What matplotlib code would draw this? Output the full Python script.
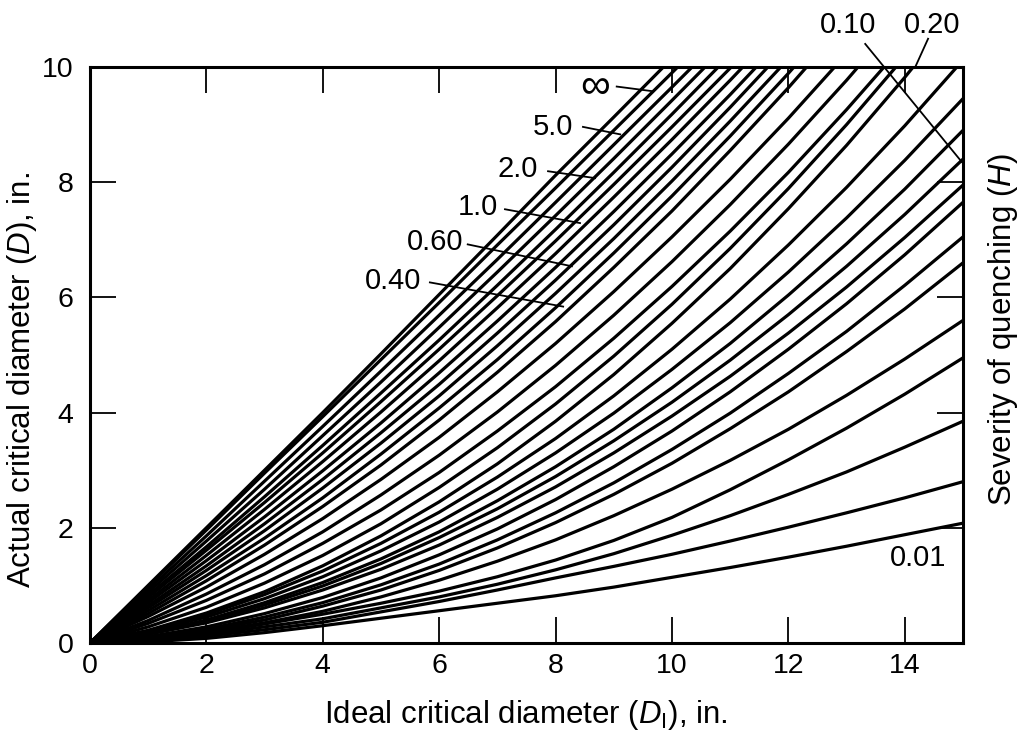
import matplotlib
matplotlib.use('Agg')
import matplotlib.pyplot as plt

plt.rcParams['font.family'] = ['Liberation Sans', 'DejaVu Sans']
plt.rcParams['mathtext.fontset'] = 'custom'
plt.rcParams['mathtext.it'] = 'Liberation Sans:italic'
plt.rcParams['mathtext.rm'] = 'Liberation Sans'

# ideal critical diameter grid (in.)
ideal_d = [0, 1, 2, 3, 4, 5, 6, 7, 8, 9, 10, 11, 12, 13, 14, 15]

# actual critical diameter, one row per curve (from H = inf downwards)
upper_curves = [
    [0, 1.00, 2.00, 3.00, 4.00, 5.02, 6.05, 7.08, 8.12, 9.13, 10.15, 11.16, 12.18, 13.19, 14.20, 15.20],
    [0, 0.98, 1.96, 2.95, 3.93, 4.92, 5.91, 6.91, 7.90, 8.90, 9.90, 10.91, 11.91, 12.92, 13.93, 14.95],
    [0, 0.93, 1.86, 2.81, 3.76, 4.72, 5.69, 6.66, 7.65, 8.65, 9.65, 10.66, 11.68, 12.70, 13.74, 14.79],
    [0, 0.88, 1.77, 2.67, 3.60, 4.53, 5.48, 6.44, 7.42, 8.41, 9.42, 10.44, 11.47, 12.53, 13.59, 14.67],
    [0, 0.83, 1.67, 2.54, 3.43, 4.34, 5.26, 6.21, 7.18, 8.17, 9.18, 10.21, 11.26, 12.33, 13.42, 14.53],
    [0, 0.79, 1.61, 2.44, 3.30, 4.19, 5.10, 6.03, 6.98, 7.96, 8.96, 9.98, 11.02, 12.09, 13.19, 14.30],
    [0, 0.74, 1.52, 2.32, 3.15, 4.01, 4.90, 5.82, 6.76, 7.74, 8.74, 9.77, 10.83, 11.92, 13.04, 14.18],
    [0, 0.70, 1.43, 2.19, 2.99, 3.82, 4.69, 5.59, 6.52, 7.49, 8.49, 9.52, 10.59, 11.69, 12.83, 14.00],
    [0, 0.65, 1.34, 2.07, 2.84, 3.65, 4.49, 5.38, 6.30, 7.26, 8.26, 9.30, 10.38, 11.50, 12.66, 13.85],
    [0, 0.61, 1.26, 1.95, 2.69, 3.47, 4.29, 5.16, 6.07, 7.02, 8.02, 9.06, 10.14, 11.27, 12.44, 13.65],
]
middle_curves = [
    [0, 0.56, 1.17, 1.82, 2.52, 3.28, 4.08, 4.92, 5.82, 6.77, 7.76, 8.80, 9.89, 11.03, 12.21, 13.45],
    [0, 0.51, 1.08, 1.70, 2.37, 3.09, 3.87, 4.70, 5.58, 6.52, 7.50, 8.55, 9.64, 10.79, 11.99, 13.24],
    [0, 0.46, 0.97, 1.54, 2.16, 2.84, 3.57, 4.36, 5.20, 6.10, 7.05, 8.05, 9.11, 10.23, 11.40, 12.62],
    [0, 0.39, 0.85, 1.36, 1.93, 2.57, 3.26, 4.01, 4.82, 5.69, 6.62, 7.61, 8.66, 9.77, 10.94, 12.17],
    [0, 0.34, 0.74, 1.20, 1.73, 2.31, 2.96, 3.68, 4.45, 5.29, 6.19, 7.15, 8.17, 9.26, 10.41, 11.62],
    [0, 0.28, 0.62, 1.04, 1.52, 2.07, 2.70, 3.39, 4.15, 4.98, 5.88, 6.85, 7.89, 9.00, 10.18, 11.43],
    [0, 0.22, 0.52, 0.89, 1.34, 1.86, 2.45, 3.11, 3.85, 4.66, 5.55, 6.50, 7.54, 8.64, 9.82, 11.07],
    [0, 0.21, 0.49, 0.84, 1.25, 1.73, 2.27, 2.88, 3.55, 4.29, 5.10, 5.97, 6.91, 7.91, 8.98, 10.12],
    [0, 0.20, 0.45, 0.77, 1.15, 1.60, 2.10, 2.67, 3.30, 3.99, 4.75, 5.56, 6.44, 7.38, 8.38, 9.45],
    [0, 0.17, 0.40, 0.70, 1.05, 1.46, 1.93, 2.47, 3.06, 3.71, 4.43, 5.20, 6.04, 6.93, 7.88, 8.90],
]
lower_curves = [
    [0, 0.16, 0.38, 0.66, 0.99, 1.38, 1.83, 2.33, 2.89, 3.51, 4.18, 4.91, 5.70, 6.54, 7.44, 8.40],
    [0, 0.15, 0.35, 0.61, 0.92, 1.28, 1.70, 2.18, 2.71, 3.30, 3.94, 4.63, 5.38, 6.18, 7.04, 7.95],
    [0, 0.11, 0.28, 0.51, 0.79, 1.13, 1.53, 1.98, 2.49, 3.06, 3.68, 4.36, 5.10, 5.89, 6.74, 7.65],
    [0, 0.09, 0.24, 0.45, 0.70, 1.01, 1.37, 1.79, 2.26, 2.78, 3.36, 3.99, 4.68, 5.41, 6.21, 7.05],
    [0, 0.08, 0.22, 0.40, 0.64, 0.92, 1.26, 1.65, 2.09, 2.58, 3.12, 3.72, 4.36, 5.06, 5.80, 6.60],
    [0, 0.07, 0.19, 0.35, 0.55, 0.80, 1.09, 1.42, 1.79, 2.21, 2.67, 3.17, 3.71, 4.30, 4.93, 5.60],
    [0, 0.05, 0.17, 0.33, 0.50, 0.69, 0.90, 1.15, 1.44, 1.78, 2.18, 2.66, 3.18, 3.73, 4.32, 4.95],
    [0, 0.04, 0.15, 0.28, 0.42, 0.61, 0.80, 1.02, 1.27, 1.55, 1.87, 2.21, 2.58, 2.97, 3.40, 3.85],
    [0, 0.03, 0.12, 0.23, 0.36, 0.54, 0.72, 0.92, 1.13, 1.33, 1.54, 1.77, 2.01, 2.26, 2.52, 2.80],
    [0, 0.02, 0.08, 0.18, 0.30, 0.43, 0.56, 0.69, 0.82, 0.97, 1.14, 1.31, 1.49, 1.68, 1.88, 2.08],
]

x_ticks = [0, 2, 4, 6, 8, 10, 12, 14]
y_ticks = [0, 2, 4, 6, 8, 10]

fig = plt.figure(figsize=(10.26, 7.4), dpi=100)
ax = fig.add_axes([0.0877, 0.1311, 0.8509, 0.7784])

for row in upper_curves + middle_curves + lower_curves:
    ax.plot(ideal_d, row, color='black', lw=2.3, solid_capstyle='butt',
            solid_joinstyle='round')

ax.set_xlim(0, 15)
ax.set_ylim(0, 10)
ax.set_xticks(x_ticks)
ax.set_yticks(y_ticks)
ax.tick_params(direction='in', length=19, width=1.3, labelsize=20.5,
               top=True, right=True, colors='black')
ax.tick_params(axis='x', pad=7)
ax.tick_params(axis='y', pad=12)
for s in ax.spines.values():
    s.set_linewidth(2.2)

# curve labels with leader lines (data coords)
def leader(x1, y1, x2, y2):
    ax.plot([x1, x2], [y1, y2], color='black', lw=1.3, clip_on=False)

lab = dict(fontsize=21, ha='center', va='center')
ax.text(8.68, 9.65, '\u221e', fontsize=30, ha='center', va='center')
leader(9.05, 9.66, 9.66, 9.58)
ax.text(7.96, 8.96, '5.0', **lab)
leader(8.47, 8.96, 9.11, 8.83)
ax.text(7.35, 8.23, '2.0', **lab)
leader(7.87, 8.19, 8.68, 8.07)
ax.text(6.67, 7.57, '1.0', **lab)
leader(7.13, 7.53, 8.42, 7.29)
ax.text(5.93, 6.96, '0.60', **lab)
leader(6.49, 6.92, 8.28, 6.54)
ax.text(5.21, 6.28, '0.40', **lab)
leader(5.84, 6.26, 8.13, 5.84)
ax.text(13.02, 10.73, '0.10', **lab)
leader(13.32, 10.4, 14.98, 8.35)
ax.text(14.47, 10.73, '0.20', **lab)
leader(14.4, 10.49, 14.18, 10.0)
ax.text(14.23, 1.48, '0.01', **lab)

fig.text(0.513, 0.034, 'Ideal critical diameter ($D_\\mathrm{I}$), in.',
         fontsize=22.5, ha='center', va='center')
fig.text(0.021, 0.487, 'Actual critical diameter ($D$), in.',
         fontsize=22.5, ha='center', va='center', rotation=90)
fig.text(0.978, 0.554, 'Severity of quenching ($H$)',
         fontsize=22.5, ha='center', va='center', rotation=90)

fig.savefig('out.png', dpi=100, facecolor='white')
